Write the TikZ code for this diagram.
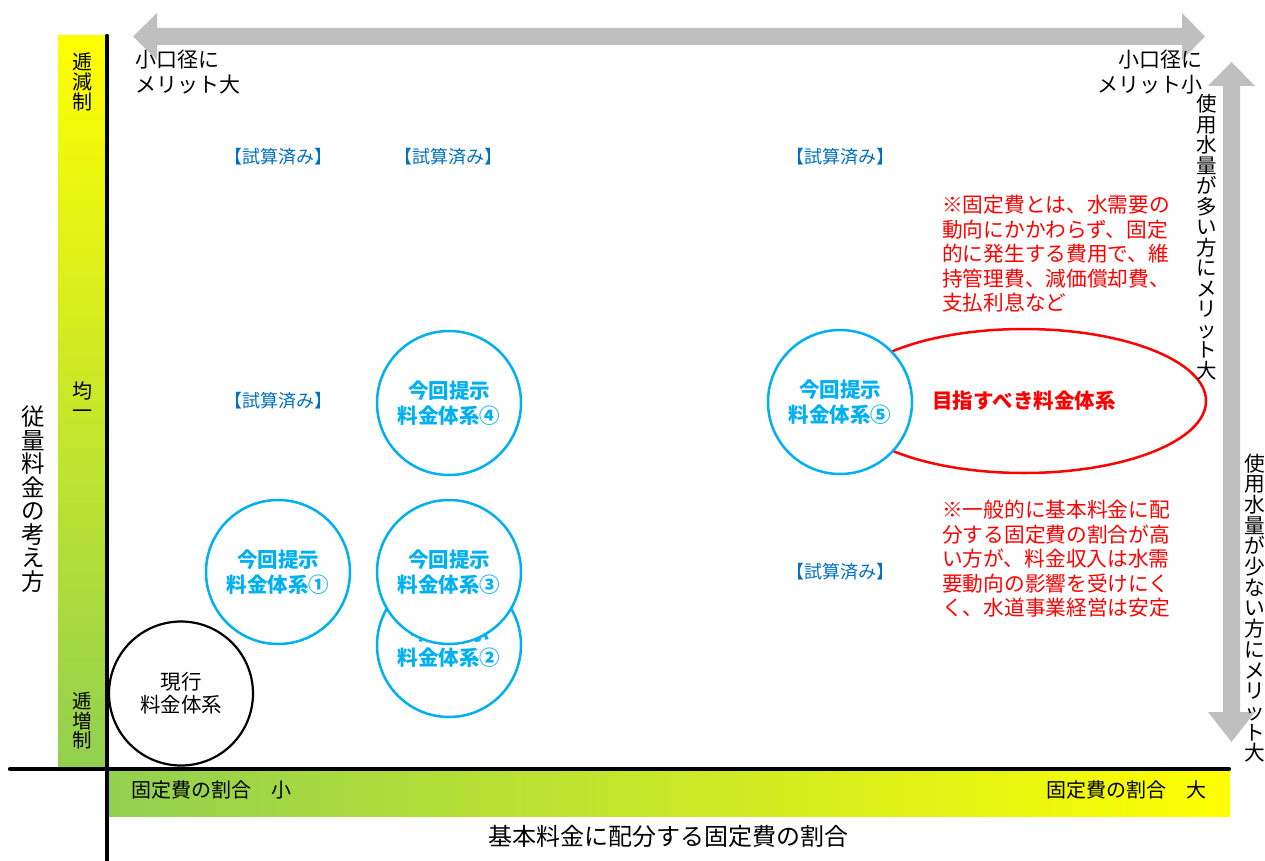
\documentclass[tikz,border=0pt]{standalone}
\usepackage{fontspec}
\setmainfont{Noto Sans CJK JP}
\usetikzlibrary{shapes.geometric}
\definecolor{ygreen}{HTML}{92D050}
\definecolor{yyellow}{HTML}{FFFF00}
\definecolor{arrowgray}{HTML}{BFBFBF}
\definecolor{cblue}{HTML}{00B0F0}
\definecolor{tblue}{HTML}{0070C0}
\begin{document}
\begin{tikzpicture}[x=1pt,y=-1pt,
  vtext/.style={align=center, inner sep=0pt, font=\fontsize{#1}{#1}\selectfont},
  htext/.style={inner sep=0pt, font=\fontsize{#1}{#1}\selectfont},
  corner/.style={inner sep=0pt, font=\fontsize{21}{25}\selectfont},
  bluecirc/.style={circle, draw=cblue, line width=2.5pt, fill=white, minimum size=144pt, inner sep=0pt, align=center, text=cblue, font=\bfseries\fontsize{20.5}{25}\selectfont},
  blackcirc/.style={circle, draw=black, line width=2.2pt, minimum size=144pt, inner sep=0pt, align=center, font=\fontsize{20.5}{23}\selectfont},
  goalell/.style={ellipse, draw=red, line width=2.5pt, minimum width=364pt, minimum height=144pt, inner sep=0pt, text=red, font=\bfseries\fontsize{20.5}{25}\selectfont},
  tested/.style={text=tblue, inner sep=0pt, font=\fontsize{18}{18}\selectfont},
  note/.style={text=red, align=left, anchor=west, inner sep=0pt, font=\fontsize{20.7}{24.5}\selectfont},
  axis/.style={line width=4.2pt, line cap=round},
  bigarrow/.style={fill=arrowgray}
]
\useasboundingbox (0,0) rectangle (1265,861);
\fill[white] (0,0) rectangle (1265,861);

% gradient bars
\shade[top color=yyellow, bottom color=ygreen] (58,36) rectangle (106,768);
\shade[left color=ygreen, right color=yyellow] (108,770) rectangle (1230,816);

% gray arrows
\fill[bigarrow] (133,36.5) -- (157,13) -- (157,28) -- (1182,28) -- (1182,13) -- (1205,36.5)
  -- (1182,60) -- (1182,45) -- (157,45) -- (157,60) -- cycle;
\fill[bigarrow] (1231.5,62) -- (1255,86) -- (1240,86) -- (1240,712) -- (1255,712) -- (1231.5,742)
  -- (1208,712) -- (1223,712) -- (1223,86) -- (1208,86) -- cycle;

% circles
\node[blackcirc] (cur) at (181,693.5) {現行\\料金体系};
\node[goalell] (goal) at (1024,401) {目指すべき料金体系};
\node[bluecirc] (c2) at (449,645) {今回提示\\料金体系②};
\node[bluecirc] (c3) at (449,572) {今回提示\\料金体系③};
\node[bluecirc] (c1) at (278,572) {今回提示\\料金体系①};
\node[bluecirc] (c4) at (449,403) {今回提示\\料金体系④};
\node[bluecirc] (c5) at (840,402) {今回提示\\料金体系⑤};

% axes
\coordinate (vtop) at (107,36);
\coordinate (vbot) at (107,870);
\coordinate (hleft) at (10,769);
\coordinate (hright) at (1229,769);
\draw[axis] (vtop) -- (vbot);
\draw[axis] (hleft) -- (hright);

% tested labels
\node[tested] (t1) at (278,157) {【試算済み】};
\node[tested] (t2) at (448,157) {【試算済み】};
\node[tested] (t3) at (840,157) {【試算済み】};
\node[tested] (t4) at (278,401) {【試算済み】};
\node[tested] (t5) at (840,572) {【試算済み】};

% corner labels
\node[corner, align=left, anchor=west] (tl) at (135,72.5) {小口径に\\メリット大};
\node[corner, align=right, anchor=east] (tr) at (1203,72.5) {小口径に\\メリット小};

% vertical texts
\node[vtext=20.5] (rv1) at (1207,237) {使\\用\\水\\量\\が\\多\\い\\方\\に\\メ\\リ\\ッ\\ト\\大};
\node[vtext=20.7] (rv2) at (1255,608) {使\\用\\水\\量\\が\\少\\な\\い\\方\\に\\メ\\リ\\ッ\\ト\\大};
\node[vtext=23.5] (lv) at (33,499) {従\\量\\料\\金\\の\\考\\え\\方};
\node[vtext=20] (b1) at (82,82) {逓\\減\\制};
\node[vtext=20] (b2) at (82,400) {均\\一};
\node[vtext=19.5] (b3) at (82,721) {逓\\増\\制};

% bottom labels
\node[htext=20, anchor=west] (bl) at (131,790) {固定費の割合\hspace{1em}小};
\node[htext=20, anchor=east] (br) at (1207,790) {固定費の割合\hspace{1em}大};
\node[htext=24] (btitle) at (668,836) {基本料金に配分する固定費の割合};

% notes
\node[note] (n1) at (942,254) {※固定費とは、水需要の\\動向にかかわらず、固定\\的に発生する費用で、維\\持管理費、減価償却費、\\支払利息など};
\node[note] (n2) at (942,559) {※一般的に基本料金に配\\分する固定費の割合が高\\い方が、料金収入は水需\\要動向の影響を受けにく\\く、水道事業経営は安定};
\end{tikzpicture}
\end{document}
